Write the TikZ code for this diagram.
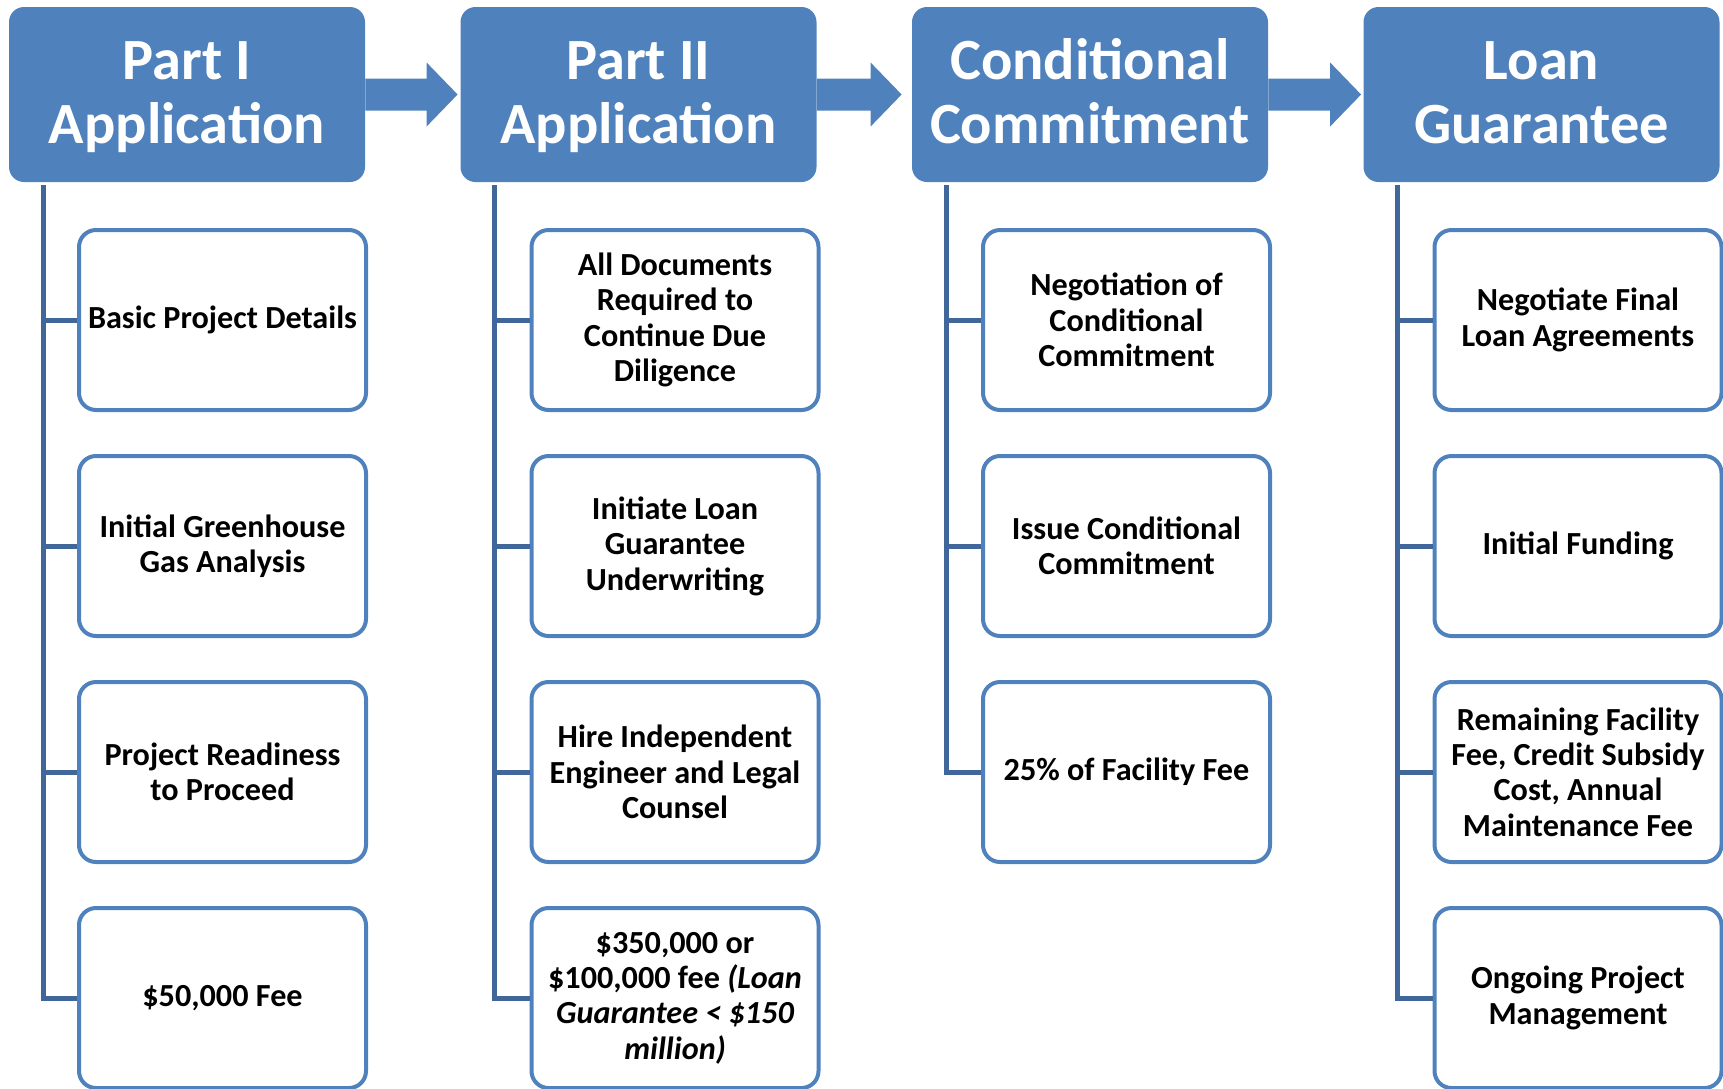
\documentclass[tikz,border=0pt]{standalone}
\usepackage{fontspec}
\setmainfont{Carlito}
\usetikzlibrary{arrows}
\definecolor{hhblue}{rgb}{0.3098,0.5059,0.7412}
\definecolor{llblue}{rgb}{0.2549,0.4000,0.6000}

\begin{document}
\begin{tikzpicture}[line cap=round,line join=round,x=0.5pt,y=-0.5pt,
	head/.style={fill=hhblue,rounded corners=7.5pt,minimum width=178pt,minimum height=87.5pt,inner sep=0pt,align=center,text=white,text height=52pt,text depth=3.5pt,font=\bfseries\fontsize{29.2}{32}\selectfont},
	item/.style={draw=hhblue,line width=2pt,fill=white,rounded corners=8.5pt,minimum width=143.5pt,minimum height=90pt,inner sep=1pt,align=center,font=\bfseries\fontsize{16.1}{17.7}\selectfont},
	tree/.style={draw=llblue,line width=2.5pt,line cap=butt,line join=miter},
	flow/.style={fill=hhblue}]
	\useasboundingbox (0,0) rectangle (1723,1088);
	\clip (0,0) rectangle (1723,1088);
	% stages
	\node[head] (h1) at (187,94.5) {Part I\\Application};
	\node[head] (h2) at (638.5,94.5) {Part II\\Application};
	\node[head] (h3) at (1090,94.5) {Conditional\\Commitment};
	\node[head] (h4) at (1541.5,94.5) {Loan\\Guarantee};
	\foreach \a/\b/\g in {h1/h2/1.25,h2/h3/5,h3/h4/1}{
		\coordinate (tip) at ([xshift=-\g pt]\b.west);
		\fill[flow] ([yshift=8pt]\a.east) -- ([xshift=-15.5pt,yshift=8pt]tip) -- ([xshift=-15.5pt,yshift=16pt]tip) -- (tip)
			-- ([xshift=-15.5pt,yshift=-16pt]tip) -- ([xshift=-15.5pt,yshift=-8pt]tip) -- ([yshift=-8pt]\a.east) -- cycle;
	}
	% steps
	\node[item] (c11) at (222.5,320) {Basic Project Details};
	\node[item] (c12) at (222.5,546) {Initial Greenhouse\\Gas Analysis};
	\node[item] (c13) at (222.5,772) {Project Readiness\\to Proceed};
	\node[item] (c14) at (222.5,998) {\$50,000 Fee};
	\node[item] (c21) at (675,320) {All Documents\\Required to\\Continue Due\\Diligence};
	\node[item] (c22) at (675,546) {Initiate Loan\\Guarantee\\Underwriting};
	\node[item] (c23) at (675,772) {Hire Independent\\Engineer and Legal\\Counsel};
	\node[item] (c24) at (675,998) {\$350,000 or\\\$100,000 fee {\itshape (Loan}\\{\itshape Guarantee < \$150}\\{\itshape million)}};
	\node[item] (c31) at (1126.5,320) {Negotiation of\\Conditional\\Commitment};
	\node[item] (c32) at (1126.5,546) {Issue Conditional\\Commitment};
	\node[item] (c33) at (1126.5,772) {25\% of Facility Fee};
	\node[item] (c41) at (1578,320) {Negotiate Final\\Loan Agreements};
	\node[item] (c42) at (1578,546) {Initial Funding};
	\node[item] (c43) at (1578,772) {Remaining Facility\\Fee, Credit Subsidy\\Cost, Annual\\Maintenance Fee};
	\node[item] (c44) at (1578,998) {Ongoing Project\\Management};
	% trunks
	\coordinate (t1) at ([xshift=-72pt,yshift=-1.5pt]h1.south);
	\coordinate (t2) at ([xshift=-72pt,yshift=-1.5pt]h2.south);
	\coordinate (t3) at ([xshift=-72pt,yshift=-1.5pt]h3.south);
	\coordinate (t4) at ([xshift=-72pt,yshift=-1.5pt]h4.south);
	\draw[tree] (t1) |- (c14.west);
	\draw[tree] (t2) |- (c24.west);
	\draw[tree] (t3) |- (c33.west);
	\draw[tree] (t4) |- (c44.west);
	\foreach \t/\c in {t1/c11,t1/c12,t1/c13,t2/c21,t2/c22,t2/c23,t3/c31,t3/c32,t4/c41,t4/c42,t4/c43}
		\draw[tree] (\t |- \c.west) -- (\c.west);
\end{tikzpicture}
\end{document}
